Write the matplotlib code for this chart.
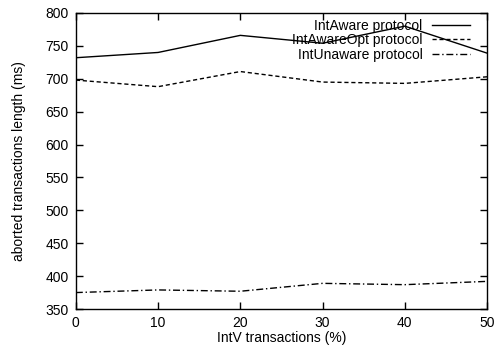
import matplotlib
matplotlib.use("Agg")
import matplotlib.pyplot as plt

plt.rcParams['font.family'] = ['Liberation Sans', 'DejaVu Sans']

intv_pct = [0, 10, 20, 30, 40, 50]
int_aware = [732, 740, 766, 754, 780, 739]
int_aware_opt = [698, 688, 711, 695, 693, 703]
int_unaware = [375, 379, 377, 389, 387, 392]

fig = plt.figure(figsize=(4.99, 3.56), dpi=100)
ax = fig.add_axes([0.152, 0.132, 0.824, 0.8315])

ax.plot(intv_pct, int_aware, color='black', linewidth=1.0, linestyle='-',
        label='IntAware protocol')
ax.plot(intv_pct, int_aware_opt, color='black', linewidth=1.0,
        linestyle=(0, (3, 2)), label='IntAwareOpt protocol')
ax.plot(intv_pct, int_unaware, color='black', linewidth=1.0,
        linestyle=(0, (5, 2, 1, 2)), label='IntUnaware protocol')

ax.set_xlim(0, 50)
ax.set_ylim(350, 800)
ax.set_xticks(intv_pct)
ax.set_yticks(range(350, 801, 50))
ax.tick_params(direction='in', top=True, right=True, labelsize=10,
               length=5, width=1, pad=5)
for s in ax.spines.values():
    s.set_linewidth(1)

ax.set_xlabel('IntV transactions (%)', fontsize=10, labelpad=1)
ax.set_ylabel('aborted transactions length (ms)', fontsize=10, labelpad=14)

leg = ax.legend(loc='upper right', frameon=False, markerfirst=False,
                fontsize=10, handlelength=2.7, handletextpad=0.7,
                labelspacing=0.05, borderaxespad=0,
                bbox_to_anchor=(0.972, 1.0))
for t in leg.get_texts():
    t.set_ha('right')

fig.savefig('out.png', dpi=100)
